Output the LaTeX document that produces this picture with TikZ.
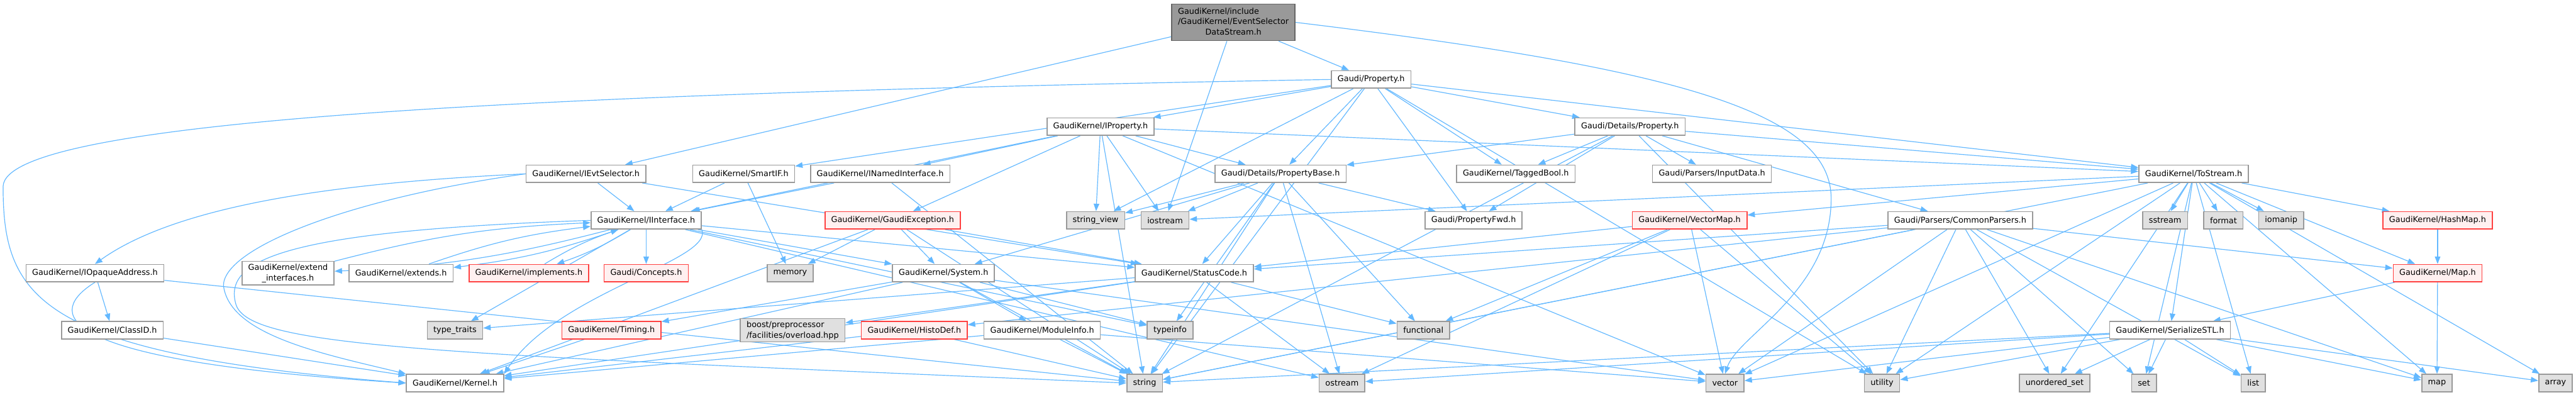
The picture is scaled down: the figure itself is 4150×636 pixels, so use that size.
\documentclass[tikz,border=0pt]{standalone}
\usepackage{fontspec}
\setmainfont{DejaVu Sans}
\usepackage{xcolor}
\definecolor{edgeBlue}{HTML}{63B8FF}
\definecolor{boxGray}{HTML}{999999}
\definecolor{sysFill}{HTML}{E0E0E0}
\definecolor{redLine}{HTML}{FF4040}
\definecolor{redFill}{HTML}{FFF0F0}
\definecolor{rootLine}{HTML}{666666}
\usepackage{tikz}
\usetikzlibrary{
  arrows.meta,
  positioning,
  backgrounds
}
\tikzset{
  incbox/.style={
    draw=boxGray,
    fill=white,
    line width=1.6pt,
    align=center,
    font=\fontsize{13}{17}\selectfont,
    minimum height=28pt,
    inner xsep=10pt,
    inner ysep=4pt
  },
  incred/.style={incbox, draw=redLine, fill=redFill},
  incsys/.style={incbox, fill=sysFill},
  incroot/.style={incbox, draw=rootLine, fill=boxGray},
  dep/.style={
    -{Triangle[length=12pt,width=9pt]},
    line width=1.2pt,
    edgeBlue
  }
}

\begin{document}
\begin{tikzpicture}[x=1pt,y=-1pt]
  \useasboundingbox (0,0) rectangle (4150,636);

  % Kopf
  \node[incroot] (root) at (1987,36)
    {\begin{tabular}{@{}l@{}}GaudiKernel/include\\/GaudiKernel/EventSelector\\\multicolumn{1}{@{}c@{}}{DataStream.h}\end{tabular}};
  \node[incbox] (prop) at (2209,128) {Gaudi/Property.h};
  \node[incbox] (iprop) at (1773,204) {GaudiKernel/IProperty.h};
  \node[incbox] (dprop) at (2626,204) {Gaudi/Details/Property.h};

  % Ebene 3
  \node[incbox] (ievt) at (944,280) {GaudiKernel/IEvtSelector.h};
  \node[incbox] (smartif) at (1198,280) {GaudiKernel/SmartIF.h};
  \node[incbox] (inamed) at (1418,280) {GaudiKernel/INamedInterface.h};
  \node[incbox] (pbase) at (2063,280) {Gaudi/Details/PropertyBase.h};
  \node[incbox] (tagged) at (2442,280) {GaudiKernel/TaggedBool.h};
  \node[incbox] (input) at (2758,280) {Gaudi/Parsers/InputData.h};
  \node[incbox] (tostream) at (3534,280) {GaudiKernel/ToStream.h};

  % Ebene 4
  \node[incbox] (iiface) at (1041,355) {GaudiKernel/IInterface.h};
  \node[incred] (gexc) at (1438,355) {GaudiKernel/GaudiException.h};
  \node[incsys] (strview) at (1765,355) {string\_view};
  \node[incsys] (iostr) at (1877,355) {iostream};
  \node[incbox] (pfwd) at (2374,355) {Gaudi/PropertyFwd.h};
  \node[incred] (vmap) at (2722,355) {GaudiKernel/VectorMap.h};
  \node[incbox] (cparse) at (3158,355) {Gaudi/Parsers/CommonParsers.h};
  \node[incsys] (sstr) at (3488,355) {sstream};
  \node[incsys] (fmt) at (3582,355) {format};
  \node[incsys] (iomanip) at (3675,355) {iomanip};
  \node[incred] (hashmap) at (3927,355) {GaudiKernel/HashMap.h};

  % Ebene 5
  \node[incbox] (iopaque) at (153,440) {GaudiKernel/IOpaqueAddress.h};
  \node[incbox] (extint) at (464,440) {GaudiKernel/extend\\\_interfaces.h};
  \node[incbox] (extends) at (646,440) {GaudiKernel/extends.h};
  \node[incred] (impl) at (852,440) {GaudiKernel/implements.h};
  \node[incred] (concepts) at (1041,440) {Gaudi/Concepts.h};
  \node[incsys] (memory) at (1273,440) {memory};
  \node[incbox] (system) at (1520,440) {GaudiKernel/System.h};
  \node[incbox] (status) at (1924,440) {GaudiKernel/StatusCode.h};
  \node[incred] (mapH) at (3927,440) {GaudiKernel/Map.h};

  % Ebene 6
  \node[incbox] (classid) at (181,532) {GaudiKernel/ClassID.h};
  \node[incsys] (typetr) at (733,532) {type\_traits};
  \node[incred] (timing) at (985,532) {GaudiKernel/Timing.h};
  \node[incsys, align=left] (boost) at (1277,532) {boost/preprocessor\\/facilities/overload.hpp};
  \node[incred] (histo) at (1473,532) {GaudiKernel/HistoDef.h};
  \node[incbox] (modinfo) at (1679,532) {GaudiKernel/ModuleInfo.h};
  \node[incsys] (typeinfo) at (1885,532) {typeinfo};
  \node[incsys] (functional) at (2293,532) {functional};
  \node[incbox] (serial) at (3496,532) {GaudiKernel/SerializeSTL.h};

  % Blaetter
  \node[incbox] (kernel) at (733,617) {GaudiKernel/Kernel.h};
  \node[incsys] (string) at (1844,617) {string};
  \node[incsys] (ostream) at (2162,617) {ostream};
  \node[incsys] (vector) at (2779,617) {vector};
  \node[incsys] (utility) at (3032,617) {utility};
  \node[incsys] (uset) at (3310,617) {unordered\_set};
  \node[incsys] (set) at (3454,617) {set};
  \node[incsys] (list) at (3630,617) {list};
  \node[incsys] (smap) at (3926,617) {map};
  \node[incsys] (array) at (4117,617) {array};

  \begin{scope}[on background layer]
    \foreach \a/\b in {root/prop, root/ievt, root/iostr,
        prop/iprop, prop/smartif, prop/strview, prop/pbase, prop/pfwd, prop/tagged,
        prop/dprop, prop/tostream, prop/string, prop/utility,
        ievt/iiface, ievt/status, smartif/iiface, smartif/memory,
        inamed/iiface, inamed/string,
        iprop/iiface, iprop/inamed, iprop/gexc, iprop/strview, iprop/iostr, iprop/pbase,
        iprop/tostream, iprop/string, iprop/vector,
        dprop/pbase, dprop/tagged, dprop/pfwd, dprop/input, dprop/tostream, dprop/cparse,
        dprop/utility, dprop/string,
        pbase/pfwd, pbase/functional, pbase/iostr, pbase/strview, pbase/status, pbase/system,
        pbase/typeinfo, pbase/string, pbase/ostream,
        tostream/hashmap, tostream/mapH, tostream/serial, tostream/vmap, tostream/sstr,
        tostream/fmt, tostream/iomanip, tostream/array, tostream/list, tostream/smap,
        tostream/set, tostream/uset, tostream/utility, tostream/vector, tostream/string,
        tostream/iostr,
        iiface/concepts, iiface/status, iiface/system, iiface/typeinfo, iiface/ostream,
        iiface/typetr,
        gexc/memory, gexc/status, gexc/system, gexc/kernel, gexc/string,
        system/kernel, system/modinfo, system/timing, system/typeinfo, system/string,
        system/vector,
        status/boost, status/kernel, status/functional, status/ostream, status/typetr,
        timing/kernel, histo/kernel, histo/string,
        modinfo/kernel, modinfo/string, modinfo/vector,
        iopaque/classid, iopaque/string, classid/kernel,
        vmap/status, vmap/functional, vmap/ostream, vmap/vector, vmap/utility,
        cparse/status, cparse/histo, cparse/mapH, cparse/vector, cparse/utility,
        cparse/uset, cparse/set, cparse/list, cparse/smap, cparse/string,
        hashmap/mapH, mapH/serial, mapH/smap,
        serial/string, serial/ostream, serial/vector, serial/utility, serial/uset,
        serial/set, serial/list, serial/smap, serial/array}
      \draw[dep] (\a) -- (\b);

    % gegenseitige Includes
    \foreach \n in {extint, extends, impl} {
      \draw[dep] (iiface) to[bend left=6] (\n);
      \draw[dep] (\n) to[bend left=6] (iiface);
    }

    % lange Boegen
    \draw[dep] (prop.west) .. controls (900,150) and (10,190) .. (5,300)
      .. controls (5,480) and (60,570) .. (kernel.west);
    \draw[dep] (ievt.west) .. controls (600,292) and (300,320) .. (iopaque.north);
    \draw[dep] (ievt.west) .. controls (560,320) and (360,400) .. (360,460)
      .. controls (370,540) and (520,570) .. (kernel.north west);
    \draw[dep] (iopaque.south) .. controls (80,500) and (60,580) .. (kernel.west);
    \draw[dep] (iiface.south east) .. controls (1150,420) and (900,470) .. (kernel.north east);
    \draw[dep] (iiface.west) .. controls (450,372) and (360,420) .. (380,490)
      .. controls (400,560) and (700,570) .. (string.west);
    \draw[dep] (root.east) .. controls (2700,110) and (2950,180) .. (2950,320)
      .. controls (2950,470) and (2800,540) .. (vector.north);
  \end{scope}
\end{tikzpicture}
\end{document}
